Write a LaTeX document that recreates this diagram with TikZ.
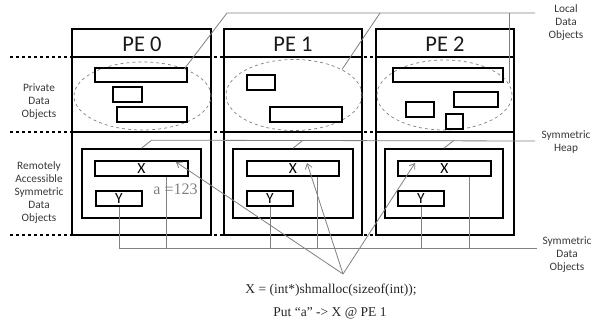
\documentclass[tikz,border=0pt]{standalone}
\usepackage{fontspec}
\setmainfont{Carlito}
\newfontfamily\tnr{Liberation Serif}
\usetikzlibrary{shapes.geometric,fit,arrows.meta}
\definecolor{conncol}{HTML}{808080}
\definecolor{txtcol}{HTML}{383838}
\begin{document}
\begin{tikzpicture}[x=1pt,y=-1pt,
  pebox/.style={draw=black, line width=1.8pt, inner sep=0pt},
  box/.style={draw=black, line width=1.6pt, inner sep=0pt},
  ell/.style={ellipse, draw=conncol, dashed, line width=0.7pt, inner sep=0pt},
  sepline/.style={draw=black, dashed, line width=1.2pt},
  hdrline/.style={draw=black, line width=1.8pt},
  conn/.style={draw=conncol, line width=0.8pt},
  arr/.style={draw=conncol, line width=0.8pt, -{Straight Barb[length=5pt,width=7pt]}},
  pelabel/.style={font=\fontsize{22.5}{24}\selectfont, text=black!90, inner sep=0pt},
  xylabel/.style={font=\fontsize{15.5}{17}\selectfont, text=black, inner sep=0pt},
  sidelabel/.style={font=\fontsize{11.3}{13}\selectfont, text=txtcol, align=center, inner sep=0pt},
  codetext/.style={font=\tnr\fontsize{13.5}{16}\selectfont, text=black!85, inner sep=0pt},
  avalue/.style={font=\tnr\fontsize{16}{18}\selectfont, text=conncol, inner sep=0pt}]
\path[use as bounding box] (0,0) rectangle (601,326);

% dashed separators
\draw[sepline] (10,57) -- (514,57);
\draw[sepline] (10,132) -- (514,132);
\draw[sepline] (10,235) -- (514,235);

% PE boxes
\node[pebox, fit={(72,29) (211,235)}] (pe0) {};
\node[pebox, fit={(224,29) (362,235)}] (pe1) {};
\node[pebox, fit={(376,29) (514,235)}] (pe2) {};
\coordinate (hA) at (0,57);
\coordinate (hB) at (0,132);
\foreach \p in {pe0,pe1,pe2}{
  \draw[hdrline] (\p.west |- hA) -- (\p.east |- hA);
  \draw[hdrline] (\p.west |- hB) -- (\p.east |- hB);
}
\node[pelabel] (t0) at (142,44) {PE 0};
\node[pelabel] (t1) at (293,44) {PE 1};
\node[pelabel] (t2) at (445,44) {PE 2};

% private data ellipses
\node[ell, minimum width=137pt, minimum height=68pt] (e0) at (142.5,96) {};
\node[ell, minimum width=136pt, minimum height=71pt] (e1) at (294,95) {};
\node[ell, minimum width=135pt, minimum height=70pt] (e2) at (444.5,95) {};

% private objects
\node[box, fit={(95,68) (187,82)}] (p0a) {};
\node[box, fit={(113,87) (142,102)}] (p0b) {};
\node[box, fit={(117,107) (187,122)}] (p0c) {};
\node[box, fit={(247,75) (275,90)}] (p1a) {};
\node[box, fit={(270,107) (342,122)}] (p1b) {};
\node[box, fit={(393,68) (503,82)}] (p2a) {};
\node[box, fit={(454,92) (498,107)}] (p2b) {};
\node[box, fit={(406,102) (434,117)}] (p2c) {};
\node[box, fit={(446,114) (463,129)}] (p2d) {};

% symmetric heaps
\node[box, fit={(82,149) (201,218)}] (h0) {};
\node[box, fit={(233,149) (353,218)}] (h1) {};
\node[box, fit={(385,149) (503,218)}] (h2) {};
\node[box, fit={(95,161) (188,176)}] (x0) {};
\node[box, fit={(247,161) (339,176)}] (x1) {};
\node[box, fit={(398,161) (491,176)}] (x2) {};
\node[box, fit={(96,191) (142,206)}] (y0) {};
\node[box, fit={(247,191) (293,206)}] (y1) {};
\node[box, fit={(398,191) (444,206)}] (y2) {};
\foreach \i in {0,1,2}{
  \node[xylabel] (xl\i) at (x\i.center) {X};
  \node[xylabel] (yl\i) at (y\i.center) {Y};
}

\node[avalue] (aval) at (175.5,189) {a =123};

% side labels
\node[sidelabel] (lpriv) at (39,102) {Private\\Data\\Objects};
\node[sidelabel] (lrem) at (39,193) {Remotely\\Accessible\\Symmetric\\Data\\Objects};
\node[sidelabel] (lloc) at (566,23) {Local\\Data\\Objects};
\node[sidelabel] (lheap) at (566,142) {Symmetric\\Heap};
\node[sidelabel] (lsdo) at (567,255) {Symmetric\\Data\\Objects};

% local data objects connectors
\coordinate (ldR) at (535,13);
\coordinate (ld0) at (227,13);
\coordinate (ld1) at (380,13);
\coordinate (ld2t) at (509,13);
\coordinate (ld2b) at (509,83);
\draw[conn] (e0.33) -- (ld0) -- (ldR);
\draw[conn] (e1.28) -- (ld1);
\draw[conn] (ld2b) -- (ld2t);

% symmetric heap connectors
\coordinate (shR) at (535,141);
\draw[conn] (h0.north) -- ++(10,-8) -- (shR);
\draw[conn] (h1.north) -- ++(10,-8);
\draw[conn] (h2.north) -- ++(10,-8);

% symmetric data objects connectors
\coordinate (sdoR) at (537,248);
\draw[conn] (y0.south) |- (sdoR);
\draw[conn] (y1.south) -- (y1.south |- sdoR);
\draw[conn] (y2.south) -- (y2.south |- sdoR);
\foreach \i in {0,1,2}{
  \coordinate (xa\i) at ([xshift=-22.5pt]x\i.south east);
  \draw[conn] (xa\i) -- (xa\i |- sdoR);
}

% code text and arrows
\node[codetext] (c1) at (331,290) {X = (int*)shmalloc(sizeof(int));};
\node[codetext] (c2) at (330,313) {Put “a” -> X @ PE 1};
\coordinate (fan) at (343,274);
\coordinate (tip0) at (176,162);
\coordinate (tip1) at (307,163);
\coordinate (tip2) at (415,163);
\draw[arr] (fan) -- (tip0);
\draw[arr] (fan) -- (tip1);
\draw[arr] (fan) -- (tip2);
\end{tikzpicture}
\end{document}
